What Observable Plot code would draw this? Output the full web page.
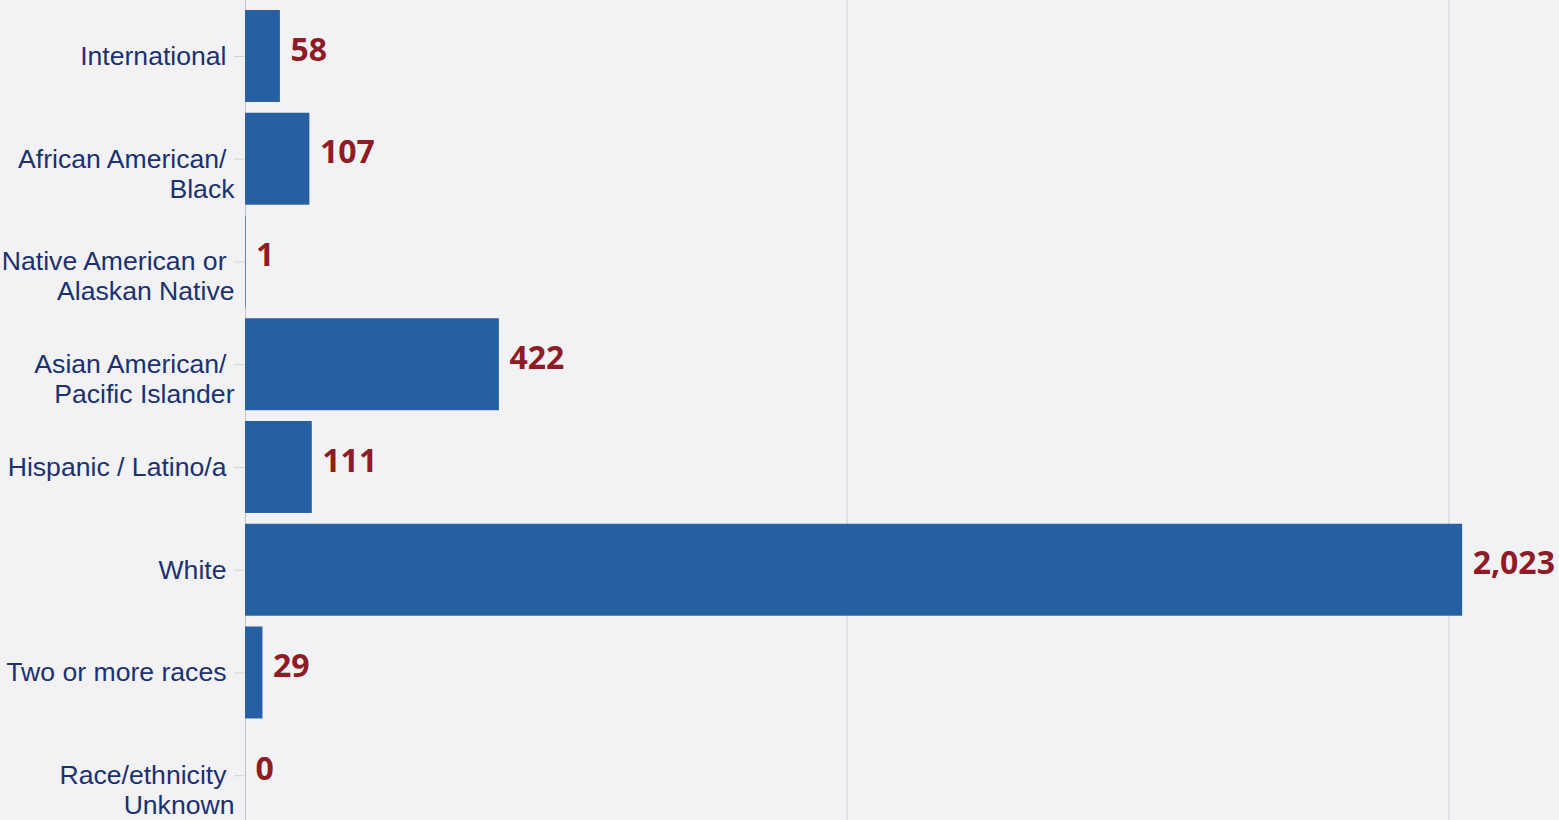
<!DOCTYPE html>
<html>
<head>
<meta charset="utf-8">
<script src="https://cdn.jsdelivr.net/npm/d3@7"></script>
<script src="https://cdn.jsdelivr.net/npm/@observablehq/plot@0.6"></script>
<style>
  html, body { margin: 0; padding: 0; background: #f2f2f4; }
  #chart svg { display: block; background: #f2f2f4; }
</style>
</head>
<body>
<div id="chart"></div>
<script>
const categories = [
  "International",
  "African American/\nBlack",
  "Native American or\nAlaskan Native",
  "Asian American/\nPacific Islander",
  "Hispanic / Latino/a",
  "White",
  "Two or more races",
  "Race/ethnicity\nUnknown"
];
const values = [58, 107, 1, 422, 111, 2023, 29, 0];
const gridValues = [1000, 2000];

const data = categories.map((c, i) => ({
  category: c,
  value: values[i],
  line1: c.split("\n")[0],
  line2: c.split("\n")[1] || ""
}));

const labelColor = "#1b3170";
const valueColor = "#8e1b25";
const barColor = "#2660a3";
const labelFont = "'Liberation Sans', Arial, Helvetica, sans-serif";

const chart = Plot.plot({
  width: 1559,
  height: 820,
  marginLeft: 245,
  marginRight: 0,
  marginTop: 0,
  marginBottom: 0,
  style: { background: "#f2f2f4" },
  x: { domain: [0, 2184], axis: null },
  y: { domain: categories, range: [4.6, 826.6], paddingInner: 0.105, paddingOuter: 0.0525, round: false, axis: null, label: null },
  marks: [
    Plot.ruleX(gridValues, { stroke: "#dcdce0", strokeWidth: 1.5 }),
    Plot.ruleX([0], { stroke: "#c4c4c8", strokeWidth: 1 }),
    Plot.axisY({ tickSize: 11, tickFormat: () => "", stroke: "#d4d4d8", anchor: "left", label: null }),
    Plot.barX(data, { x: "value", y: "category", fill: barColor }),
    Plot.text(data, {
      x: "value", y: "category", text: d => d3.format(",")(d.value),
      textAnchor: "start", dx: 10, dy: -6,
      fill: valueColor, fontSize: 32, fontWeight: 700, fontFamily: "'Open Sans', sans-serif"
    }),
    Plot.text(data, {
      x: 0, y: "category", text: "line1",
      textAnchor: "end", dx: -19, lineAnchor: "middle",
      fill: labelColor, fontSize: 26.6, fontFamily: labelFont
    }),
    Plot.text(data, {
      x: 0, y: "category", text: "line2",
      textAnchor: "end", dx: -11, dy: 30, lineAnchor: "middle",
      fill: labelColor, fontSize: 26.6, fontFamily: labelFont
    })
  ]
});
document.getElementById("chart").appendChild(chart);
</script>
</body>
</html>
